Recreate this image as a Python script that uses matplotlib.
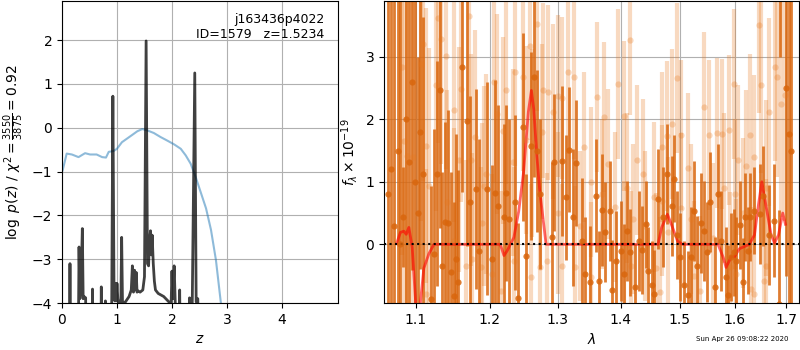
import numpy as np
import matplotlib
matplotlib.use('Agg')
import matplotlib.pyplot as plt
from matplotlib.ticker import FixedLocator, ScalarFormatter, NullLocator

# --- painel esquerdo: p(z) e chi2 ---
pz_z = [0.00, 0.13, 0.145, 0.16, 0.29, 0.31, 0.325, 0.345, 0.37, 0.385, 0.40, 0.43,
        0.44, 0.54, 0.555, 0.57, 0.70, 0.715, 0.73, 0.78, 0.79, 0.80, 0.88, 0.905,
        0.925, 0.945, 0.96, 0.97, 0.985, 1.00, 1.015, 1.03, 1.07, 1.085, 1.10, 1.15,
        1.22, 1.26, 1.28, 1.30, 1.32, 1.335, 1.35, 1.365, 1.38, 1.42, 1.47, 1.50,
        1.53, 1.555, 1.575, 1.59, 1.61, 1.625, 1.64, 1.66, 1.68, 1.70, 1.75, 1.85,
        1.95, 1.985, 2.00, 2.015, 2.04, 2.06, 2.08, 2.12, 2.14, 2.16, 2.30, 2.32,
        2.34, 2.37, 2.415, 2.44, 2.47, 2.49, 5.0]
pz_log = [-6, -6, -3.1, -6, -6, -2.72, -3.9, -3.6, -2.3, -3.9, -3.85, -3.88,
          -6, -6, -3.68, -6, -6, -3.63, -6, -6, -3.95, -6, -6, -3.9,
          0.72, -3.5, -3.95, -3.55, -3.95, -3.55, -3.9, -4.0, -4.0, -2.5, -3.98, -3.98,
          -3.85, -3.7, -3.15, -3.75, -3.25, -3.7, -3.3, -3.75, -3.72, -3.75, -3.7, -3.4,
          1.98, -3.1, -3.15, -2.6, -2.35, -2.9, -2.45, -3.1, -3.5, -3.7, -3.78, -3.85,
          -3.98, -4.0, -3.27, -3.9, -3.15, -4.0, -6, -6, -3.7, -6, -6, -3.88,
          -6, -3.9, 1.25, -3.97, -3.9, -6, -6]

chi_z = [0.012, 0.085, 0.18, 0.30, 0.42, 0.51, 0.63, 0.73, 0.80, 0.85, 0.94, 1.00,
         1.09, 1.18, 1.27, 1.37, 1.46, 1.55, 1.67, 1.79, 1.91, 2.04, 2.16, 2.25,
         2.34, 2.43, 2.52, 2.62, 2.71, 2.80, 2.89, 3.0, 5.0]
chi_val = [-0.97, -0.59, -0.61, -0.67, -0.58, -0.61, -0.61, -0.67, -0.68, -0.55, -0.53, -0.48,
           -0.33, -0.25, -0.17, -0.08, -0.03, -0.06, -0.12, -0.21, -0.29, -0.38, -0.48, -0.63,
           -0.82, -1.12, -1.46, -1.84, -2.33, -3.02, -4.0, -5.3, -30]

# --- painel direito: espectro ---
wave_a = [1.0650, 1.0690, 1.0730, 1.0770, 1.0800, 1.0837, 1.0880, 1.0910, 1.0948, 1.0990,
          1.1030, 1.1060, 1.1091, 1.1205, 1.1245, 1.1284, 1.1315, 1.1345, 1.1382, 1.1431,
          1.1472, 1.1512, 1.1530, 1.1567, 1.1612, 1.1684, 1.1721, 1.1805, 1.1856, 1.1958,
          1.2029, 1.2076, 1.2124, 1.2204, 1.2233, 1.2272, 1.2363, 1.2403, 1.2476, 1.2530,
          1.2604, 1.2643, 1.2687, 1.2732, 1.2909, 1.2944, 1.3061, 1.3123, 1.3165, 1.3236,
          1.3283, 1.3368, 1.3420, 1.3499, 1.3594, 1.3638, 1.3691, 1.3744, 1.3825, 1.3853,
          1.3923, 1.3995, 1.4045, 1.4099, 1.4144, 1.4238, 1.4295, 1.4350, 1.4413, 1.4452,
          1.4515, 1.4560, 1.4628, 1.4709, 1.4779, 1.4871, 1.4906, 1.4948, 1.5001, 1.5083,
          1.5154, 1.5202, 1.5256, 1.5304, 1.5382, 1.5442, 1.5485, 1.5551, 1.5637, 1.5693,
          1.5748, 1.5841, 1.5878, 1.5935, 1.5985, 1.6034, 1.6098, 1.6161, 1.6205, 1.6251,
          1.6300, 1.6377, 1.6488, 1.6540, 1.6649, 1.6755, 1.6846, 1.6880, 1.7000, 1.7046,
          1.7090]
flux_a = [0.8, 1.2, 0.3, 1.5, 0.0, 0.43, 2.0, 1.32, 2.59, 1.0,
          0.5, 1.8, 1.13, -0.87, -0.15, 1.13, 2.46, -0.34, 0.36, 0.34,
          -0.44, -0.83, -0.24, -0.61, 2.84, 1.97, 0.67, 0.89, -0.11, 0.89,
          -0.23, 0.82, 0.62, 0.43, 0.82, 0.41, 0.67, -0.86, 1.88, -0.18,
          1.57, 2.67, 1.49, 0.80, 0.11, 1.31, 1.33, 0.75, 1.51, 0.43,
          1.30, 0.06, -0.47, -0.60, 0.78, -0.59, 0.55, 0.20, 0.54, -0.73,
          -0.26, -0.11, -0.47, 0.22, -0.13, -0.69, 0.06, -0.09, 0.32, -0.42,
          -0.65, -0.79, 0.72, 0.43, 1.12, 0.62, 1.05, 0.15, -0.20, -0.65,
          -0.81, -0.20, 0.53, -0.34, 0.34, 0.22, -0.13, 0.67, -0.68, 0.80,
          0.06, -0.53, -0.81, -0.20, -0.13, -0.26, 0.31, -0.60, 0.44, -0.10,
          0.44, 0.54, 0.49, 0.78, 0.15, 0.38, -0.95, 4.5, 2.5, 1.77,
          1.5]
err_a = [5.0, 5.0, 5.0, 5.0, 4.0, 0.8, 3.5, 3.0, 3.0, 3.5,
         2.5, 2.2, 2.5, 1.8, 2.0, 1.8, 2.2, 1.5, 1.6, 1.8,
         1.6, 1.5, 2.0, 1.8, 2.0, 2.0, 1.7, 1.6, 1.8, 1.7,
         1.5, 1.8, 1.6, 1.5, 1.4, 1.6, 1.4, 1.2, 1.5, 1.3,
         1.5, 1.6, 1.3, 1.2, 1.2, 1.1, 1.2, 1.0, 1.0, 1.1,
         1.0, 1.0, 0.9, 0.9, 0.9, 0.8, 0.9, 0.8, 0.8, 0.8,
         0.8, 0.8, 0.8, 0.8, 0.7, 0.7, 0.8, 0.7, 0.7, 0.7,
         0.7, 0.7, 0.8, 0.8, 0.8, 0.8, 0.7, 0.7, 0.7, 0.7,
         0.7, 0.8, 0.8, 0.8, 0.8, 0.8, 0.8, 0.8, 0.8, 0.8,
         0.8, 0.8, 0.8, 0.7, 0.7, 0.7, 0.7, 0.7, 0.7, 0.7,
         0.7, 0.7, 0.8, 0.8, 0.8, 0.9, 1.5, 1.5, 3.0, 5.0,
         5.0]

wave_b = [1.0829, 1.0850, 1.0893, 1.0970, 1.1065, 1.1095, 1.1130, 1.1140, 1.1174, 1.1271,
          1.1298, 1.1328, 1.1399, 1.1418, 1.1507, 1.1512, 1.1571, 1.1608, 1.1667, 1.1712,
          1.1735, 1.1759, 1.1795, 1.1874, 1.1888, 1.1920, 1.1948, 1.2038, 1.2057, 1.2110,
          1.2157, 1.2196, 1.2233, 1.2330, 1.2346, 1.2363, 1.2486, 1.2530, 1.2583, 1.2592,
          1.2619, 1.2679, 1.2732, 1.2758, 1.2783, 1.2843, 1.2852, 1.2924, 1.2996, 1.3000,
          1.3061, 1.3070, 1.3150, 1.3252, 1.3260, 1.3350, 1.3410, 1.3516, 1.3520, 1.3612,
          1.3700, 1.3729, 1.3794, 1.3900, 1.3944, 1.4045, 1.4053, 1.4100, 1.4154, 1.4163,
          1.4200, 1.4269, 1.4365, 1.4400, 1.4560, 1.4594, 1.4656, 1.4686, 1.4700, 1.4779,
          1.4800, 1.4866, 1.4953, 1.5024, 1.5030, 1.5143, 1.5200, 1.5261, 1.5370, 1.5431,
          1.5534, 1.5600, 1.5675, 1.5762, 1.5800, 1.5903, 1.5920, 1.5985, 1.6000, 1.6034,
          1.6072, 1.6150, 1.6218, 1.6300, 1.6311, 1.6366, 1.6377, 1.6455, 1.6494, 1.6552,
          1.6600, 1.6605, 1.6657, 1.6767, 1.6821, 1.6900, 1.6984]
flux_b = [2.83, 1.66, 1.42, 1.40, 2.88, 3.21, 1.58, -0.80, 0.94, 2.54,
          3.62, 3.29, 3.01, 0.67, 2.15, 0.06, 1.35, 2.48, -0.35, 3.65,
          1.35, -0.24, 1.72, -0.37, 0.34, 0.93, 1.13, -0.47, 2.59, 2.08,
          -0.75, 1.82, 2.46, 1.31, -0.26, 2.75, 2.68, 1.67, 3.17, -0.53,
          1.62, 3.53, -0.37, 1.80, 2.46, -0.26, 2.43, 2.12, 2.37, 0.50,
          2.34, -0.34, 2.75, 2.67, -0.37, 0.30, 1.56, -0.53, 1.00, 2.36,
          0.80, 2.04, 1.29, 0.60, 2.56, 2.05, -0.19, 0.90, 3.26, -0.35,
          0.40, 1.35, 1.12, 0.30, 0.75, -0.38, -0.76, 1.55, 0.70, 1.73,
          0.20, 1.92, 2.66, 1.75, 0.58, 1.22, 0.40, -0.50, -0.75, 2.20,
          1.75, 0.10, 1.78, 1.76, 0.90, 1.83, -0.37, 2.56, 0.80, -0.47,
          1.35, 0.50, 1.26, 1.75, -0.71, 1.40, -0.80, 3.50, 2.54, -0.59,
          0.90, -0.35, 2.12, 2.83, 2.67, 2.24, 2.38]
err_b = [3.0, 3.0, 3.0, 2.5, 2.5, 2.2, 2.2, 2.0, 2.2, 2.0,
         2.0, 2.0, 1.8, 1.8, 1.8, 1.8, 1.8, 1.8, 1.7, 1.7,
         1.7, 1.7, 1.7, 1.6, 1.6, 1.6, 1.6, 1.6, 1.6, 1.6,
         1.6, 1.5, 1.5, 1.5, 1.5, 1.5, 1.5, 1.5, 1.5, 1.5,
         1.5, 1.4, 1.4, 1.4, 1.4, 1.4, 1.4, 1.4, 1.3, 1.3,
         1.3, 1.3, 1.3, 1.3, 1.3, 1.2, 1.2, 1.2, 1.2, 1.2,
         1.2, 1.2, 1.2, 1.2, 1.2, 1.2, 1.2, 1.2, 1.2, 1.2,
         1.2, 1.2, 1.2, 1.2, 1.2, 1.2, 1.2, 1.2, 1.2, 1.2,
         1.2, 1.2, 1.2, 1.2, 1.2, 1.2, 1.2, 1.2, 1.2, 1.2,
         1.2, 1.2, 1.2, 1.2, 1.2, 1.2, 1.2, 1.2, 1.2, 1.2,
         1.2, 1.2, 1.2, 1.3, 1.3, 1.3, 1.3, 1.4, 1.4, 1.4,
         1.4, 1.4, 1.5, 1.5, 1.6, 1.8, 2.0]

model_w = [1.0757, 1.0806, 1.0850, 1.0880, 1.0914, 1.0957, 1.1000, 1.1020, 1.1040, 1.1065,
           1.1108, 1.1174, 1.1240, 1.2150, 1.2204, 1.2251, 1.2346, 1.2417, 1.2488, 1.2558,
           1.2603, 1.2638, 1.2685, 1.2725, 1.2772, 1.2822, 1.4624, 1.4686, 1.4786, 1.4875,
           1.4963, 1.5050, 1.5690, 1.5787, 1.5840, 1.5935, 1.5995, 1.6090, 1.6280, 1.6377,
           1.6455, 1.6519, 1.6584, 1.6700, 1.6767, 1.6846, 1.6929, 1.6984]
model_f = [0.01, 0.19, 0.21, 0.16, 0.27, -0.05, -0.9, -1.6, -1.5, -0.9,
           -0.38, -0.15, 0.0, 0.0, -0.18, -0.1, 0.11, 0.53, 1.16, 2.12,
           2.46, 2.16, 1.4, 0.88, 0.45, 0.0, 0.0, 0.27, 0.48, 0.27,
           0.05, 0.0, 0.0, -0.21, -0.37, -0.2, -0.2, -0.07, 0.0, 0.15,
           0.64, 1.0, 0.69, 0.15, 0.02, 0.15, 0.5, 0.32]

lam_ticks = [1.1, 1.2, 1.3, 1.4, 1.5, 1.6, 1.7]

fig = plt.figure(figsize=(8, 3.5), dpi=100)
ax1 = fig.add_axes([0.0775, 0.134, 0.345, 0.863])
ax2 = fig.add_axes([0.48, 0.134, 0.519, 0.863])

# p(z)
ax1.plot(chi_z, chi_val, color='#1f77b4', alpha=0.5, lw=1.5)
ax1.plot(pz_z, pz_log, color='k', alpha=0.75, lw=2)
ax1.set_xlim(0, 5.02)
ax1.set_ylim(-4, 2.89)
ax1.set_xticks([0, 1, 2, 3, 4])
ax1.set_yticks([-4, -3, -2, -1, 0, 1, 2])
ax1.grid(True)
ax1.set_xlabel(r'$z$')
ax1.set_ylabel(r'$\log\ p(z)$ / $\chi^2=\frac{3550}{3875}=0.92$')
ax1.text(0.95, 0.96, 'j163436p4022\nID=1579   z=1.5234', transform=ax1.transAxes,
         ha='right', va='top', fontsize=9)

# espectro
ax2.errorbar(wave_b, flux_b, yerr=err_b, marker='o', linestyle='none', color='#e8781e',
             alpha=0.28, ms=4.5, elinewidth=3, markeredgewidth=0)
ax2.errorbar(wave_a, flux_a, yerr=err_a, marker='o', linestyle='none', color='#d9660d',
             alpha=0.85, ms=4.5, elinewidth=2, markeredgewidth=0)
ax2.plot(model_w, model_f, color='r', alpha=0.6, lw=2)
ax2.axhline(0, color='k', linestyle=':', lw=1.5)
ax2.set_xscale('log')
ax2.set_xlim(1.06, 1.726)
ax2.set_ylim(-0.94, 3.89)
ax2.xaxis.set_major_locator(FixedLocator(lam_ticks))
ax2.xaxis.set_major_formatter(ScalarFormatter())
ax2.xaxis.set_minor_locator(NullLocator())
ax2.set_yticks([0, 1, 2, 3])
ax2.grid(True)
ax2.set_xlabel(r'$\lambda$')
ax2.set_ylabel(r'$f_\lambda\times10^{-19}$')

fig.text(0.985, 0.022, 'Sun Apr 26 09:08:22 2020', ha='right', va='bottom', fontsize=5)

fig.savefig('out.png', dpi=100)
